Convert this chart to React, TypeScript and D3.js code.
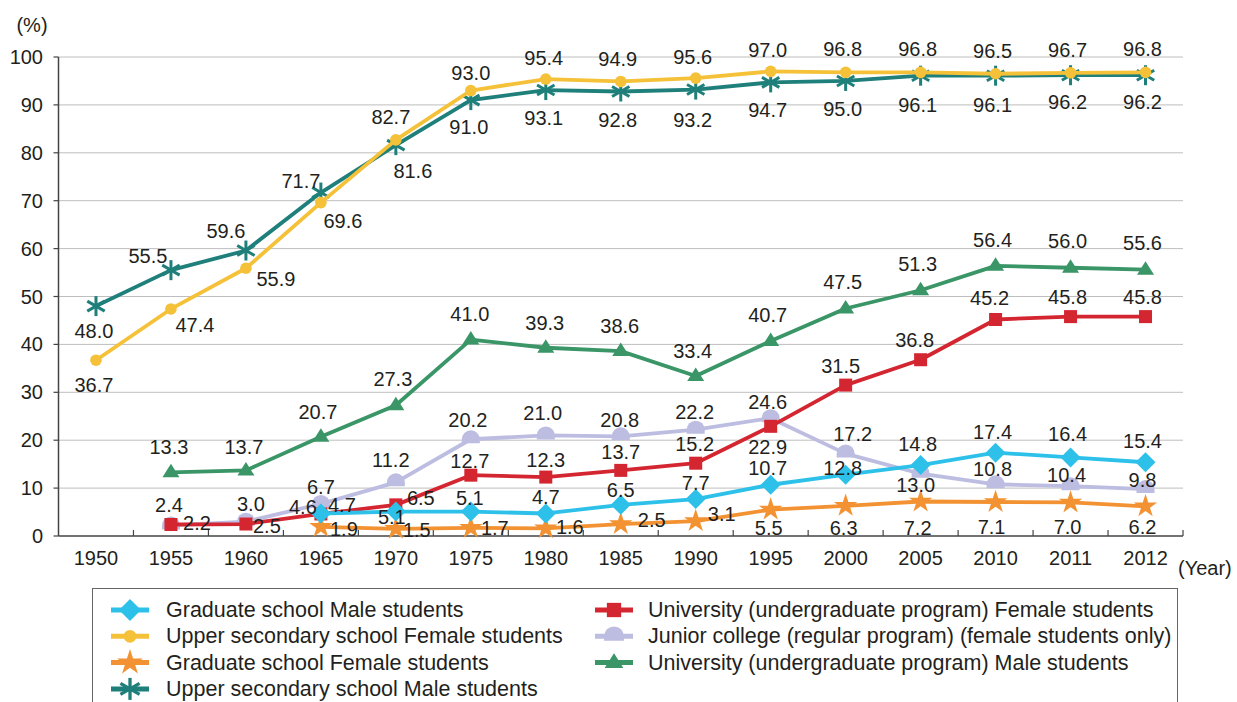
import React from 'react';
import * as d3 from 'd3';

// categories
const years = ['1950', '1955', '1960', '1965', '1970', '1975', '1980', '1985', '1990', '1995', '2000', '2005', '2010', '2011', '2012'];
const yTicks = [0, 10, 20, 30, 40, 50, 60, 70, 80, 90, 100];

// series values (%), null = no data
const gradMale = [null, null, null, 4.7, 5.1, 5.1, 4.7, 6.5, 7.7, 10.7, 12.8, 14.8, 17.4, 16.4, 15.4];
const upperFemale = [36.7, 47.4, 55.9, 69.6, 82.7, 93.0, 95.4, 94.9, 95.6, 97.0, 96.8, 96.8, 96.5, 96.7, 96.8];
const gradFemale = [null, null, null, 1.9, 1.5, 1.7, 1.6, 2.5, 3.1, 5.5, 6.3, 7.2, 7.1, 7.0, 6.2];
const upperMale = [48.0, 55.5, 59.6, 71.7, 81.6, 91.0, 93.1, 92.8, 93.2, 94.7, 95.0, 96.1, 96.1, 96.2, 96.2];
const univFemale = [null, 2.4, 2.5, 4.6, 6.5, 12.7, 12.3, 13.7, 15.2, 22.9, 31.5, 36.8, 45.2, 45.8, 45.8];
const juniorCollege = [null, 2.2, 3.0, 6.7, 11.2, 20.2, 21.0, 20.8, 22.2, 24.6, 17.2, 13.0, 10.8, 10.4, 9.8];
const univMale = [null, 13.3, 13.7, 20.7, 27.3, 41.0, 39.3, 38.6, 33.4, 40.7, 47.5, 51.3, 56.4, 56.0, 55.6];

// where each value label sits, relative to its point
const gradMaleLabels = [null, null, null, [21, -8], [-4, 5], [-1, -14], [0, -16], [0, -15], [0, -16], [-3, -17], [-3, -7], [-3, -21], [-3, -21], [-3, -23], [-3, -21]];
const upperFemaleLabels = [[-2, 25], [24, 16], [30, 11], [22, 18], [-5, -23], [0, -18], [-2, -21], [-3, -22], [-3, -21], [-3, -21], [-3, -23], [-3, -23], [-3, -23], [-3, -23], [-3, -23]];
const gradFemaleLabels = [null, null, null, [23, 2], [21, 1], [24, 0], [24, -1], [31, -4], [26, -7], [-2, 18], [-2, 22], [-3, 26], [-4, 25], [-3, 25], [-3, 21]];
const upperMaleLabels = [[-2, 25], [-23, -14], [-20, -20], [-20, -12], [17, 26], [-2, 27], [-2, 28], [-3, 29], [-3, 30], [-3, 28], [-3, 28], [-3, 29], [-3, 29], [-3, 27], [-3, 27]];
const univFemaleLabels = [null, [-2, -20], [21, 2], [-18, -7], [25, -7], [-1, -14], [0, -17], [0, -18], [-1, -19], [-3, 21], [-5, -19], [-6, -20], [-6, -21], [-3, -20], [-3, -20]];
const juniorLabels = [null, [26, -2], [5, -18], [0, -17], [-5, -22], [-3, -19], [-3, -22], [-1, -16], [-1, -18], [-3, -16], [7, -20], [-5, 11], [-3, -15], [-4, -11], [-3, -9]];
const univMaleLabels = [null, [-2, -25], [-2, -23], [-3, -25], [-3, -26], [-1, -26], [-1, -25], [-1, -25], [-3, -25], [-3, -26], [-3, -26], [-3, -26], [-3, -26], [-3, -27], [-3, -27]];

const series = [
  { name: 'Graduate school Male students', values: gradMale, labels: gradMaleLabels, color: '#2DC1EA', marker: 'diamond' },
  { name: 'Upper secondary school Female students', values: upperFemale, labels: upperFemaleLabels, color: '#F5C138', marker: 'circle' },
  { name: 'Graduate school Female students', values: gradFemale, labels: gradFemaleLabels, color: '#F39232', marker: 'star' },
  { name: 'Upper secondary school Male students', values: upperMale, labels: upperMaleLabels, color: '#1F7F7A', marker: 'asterisk' },
  { name: 'University (undergraduate program) Female students', values: univFemale, labels: univFemaleLabels, color: '#D42630', marker: 'square' },
  { name: 'Junior college (regular program) (female students only)', values: juniorCollege, labels: juniorLabels, color: '#BCBDE1', marker: 'dome' },
  { name: 'University (undergraduate program) Male students', values: univMale, labels: univMaleLabels, color: '#3A9567', marker: 'triangle' },
];

const font = '"Liberation Sans", Arial, Helvetica, sans-serif';
const textColor = '#231F20';

function Marker({ type, color, x, y, k = 1 }: { type: string; color: string; x: number; y: number; k?: number }) {
  const t = `translate(${x},${y}) scale(${k})`;
  if (type === 'diamond') return <path transform={t} d="M0,-10L10,0L0,10L-10,0Z" fill={color} />;
  if (type === 'circle') return <circle transform={t} r={5.8} fill={color} />;
  if (type === 'square') return <rect transform={t} x={-6.5} y={-6.5} width={13} height={13} fill={color} />;
  if (type === 'triangle') return <path transform={t} d="M0,-8.5L8.5,5L-8.5,5Z" fill={color} />;
  if (type === 'dome') return <path transform={t} d="M-9,4L-9,0A9,9 0 0 1 9,0L9,4Z" fill={color} />;
  if (type === 'star') return <path transform={t} d={d3.symbol(d3.symbolStar, 170)() || ''} fill={color} />;
  // asterisk
  const r = 10;
  return (
    <g transform={t} stroke={color} strokeWidth={3}>
      <line x1={0} y1={-r} x2={0} y2={r} />
      <line x1={-r * 0.87} y1={-r * 0.5} x2={r * 0.87} y2={r * 0.5} />
      <line x1={-r * 0.87} y1={r * 0.5} x2={r * 0.87} y2={-r * 0.5} />
    </g>
  );
}

export default function App() {
  const width = 1237;
  const height = 702;

  const x = d3.scaleBand<string>().domain(years).range([58.5, 1183]).padding(0);
  const y = d3.scaleLinear().domain([0, 100]).range([536, 57]);
  const cx = (i: number) => (x(years[i]) as number) + x.bandwidth() / 2;

  const line = d3
    .line<number | null>()
    .defined((d) => d !== null)
    .x((_, i) => cx(i))
    .y((d) => y(d as number));

  const drawOrder = [...series].reverse();
  const boundaries = years.map((yr) => (x(yr) as number) + x.bandwidth());

  return (
    <svg width={width} height={height} style={{ position: 'absolute', left: 0, top: 0 }} fontFamily={font}>
      <rect width={width} height={height} fill="#fff" />

      {/* gridlines */}
      {yTicks.filter((t) => t > 0).map((t) => (
        <line key={t} x1={58.5} x2={1183} y1={y(t)} y2={y(t)} stroke="#BEBEBE" strokeWidth={1} />
      ))}

      {/* y axis */}
      <line x1={58.5} x2={58.5} y1={y(100)} y2={y(0)} stroke="#444" strokeWidth={1.5} />
      {yTicks.map((t) => (
        <g key={t}>
          <line x1={53.5} x2={58.5} y1={y(t)} y2={y(t)} stroke="#444" strokeWidth={1.2} />
          <text x={43} y={y(t)} textAnchor="end" dominantBaseline="central" fontSize={20} fill={textColor}>
            {t}
          </text>
        </g>
      ))}
      <text x={32} y={25} textAnchor="middle" dominantBaseline="central" fontSize={20} fill={textColor}>(%)</text>

      {/* x axis */}
      <line x1={58.5} x2={1183} y1={y(0)} y2={y(0)} stroke="#444" strokeWidth={1.5} />
      {boundaries.map((b, i) => (
        <line key={i} x1={b} x2={b} y1={y(0)} y2={y(0) - 6} stroke="#444" strokeWidth={1.2} />
      ))}
      {years.map((yr, i) => (
        <text key={yr} x={cx(i)} y={558} textAnchor="middle" dominantBaseline="central" fontSize={20} fill={textColor}>
          {yr}
        </text>
      ))}
      <text x={1178} y={568} dominantBaseline="central" fontSize={20} fill={textColor}>(Year)</text>

      {/* lines + markers */}
      {drawOrder.map((s) => (
        <g key={s.name}>
          <path d={line(s.values) || ''} fill="none" stroke={s.color} strokeWidth={3.8} strokeLinejoin="round" />
          {s.values.map((v, i) =>
            v === null ? null : <Marker key={i} type={s.marker} color={s.color} x={cx(i)} y={y(v)} />
          )}
        </g>
      ))}

      {/* value labels */}
      {series.map((s) =>
        s.values.map((v, i) => {
          if (v === null) return null;
          const off = s.labels[i] || [0, -20];
          return (
            <text
              key={s.name + i}
              x={cx(i) + off[0]}
              y={y(v) + off[1]}
              textAnchor="middle"
              dominantBaseline="central"
              fontSize={20}
              fill={textColor}
            >
              {v.toFixed(1)}
            </text>
          );
        })
      )}

      {/* legend */}
      <rect x={92.5} y={588.5} width={1085} height={160} fill="#fff" stroke="#666" strokeWidth={1} />
      {series.map((s, i) => {
        const col = i < 4 ? 0 : 1;
        const row = i < 4 ? i : i - 4;
        const lx = col === 0 ? 111 : 595;
        const tx = col === 0 ? 166 : 648;
        const ly = 610 + row * 26.3;
        return (
          <g key={s.name}>
            <line x1={lx} x2={lx + 38} y1={ly} y2={ly} stroke={s.color} strokeWidth={5} />
            <Marker type={s.marker} color={s.color} x={lx + 19} y={ly} k={1.1} />
            <text x={tx} y={ly} dominantBaseline="central" fontSize={21.5} fill={textColor}>
              {s.name}
            </text>
          </g>
        );
      })}
    </svg>
  );
}
